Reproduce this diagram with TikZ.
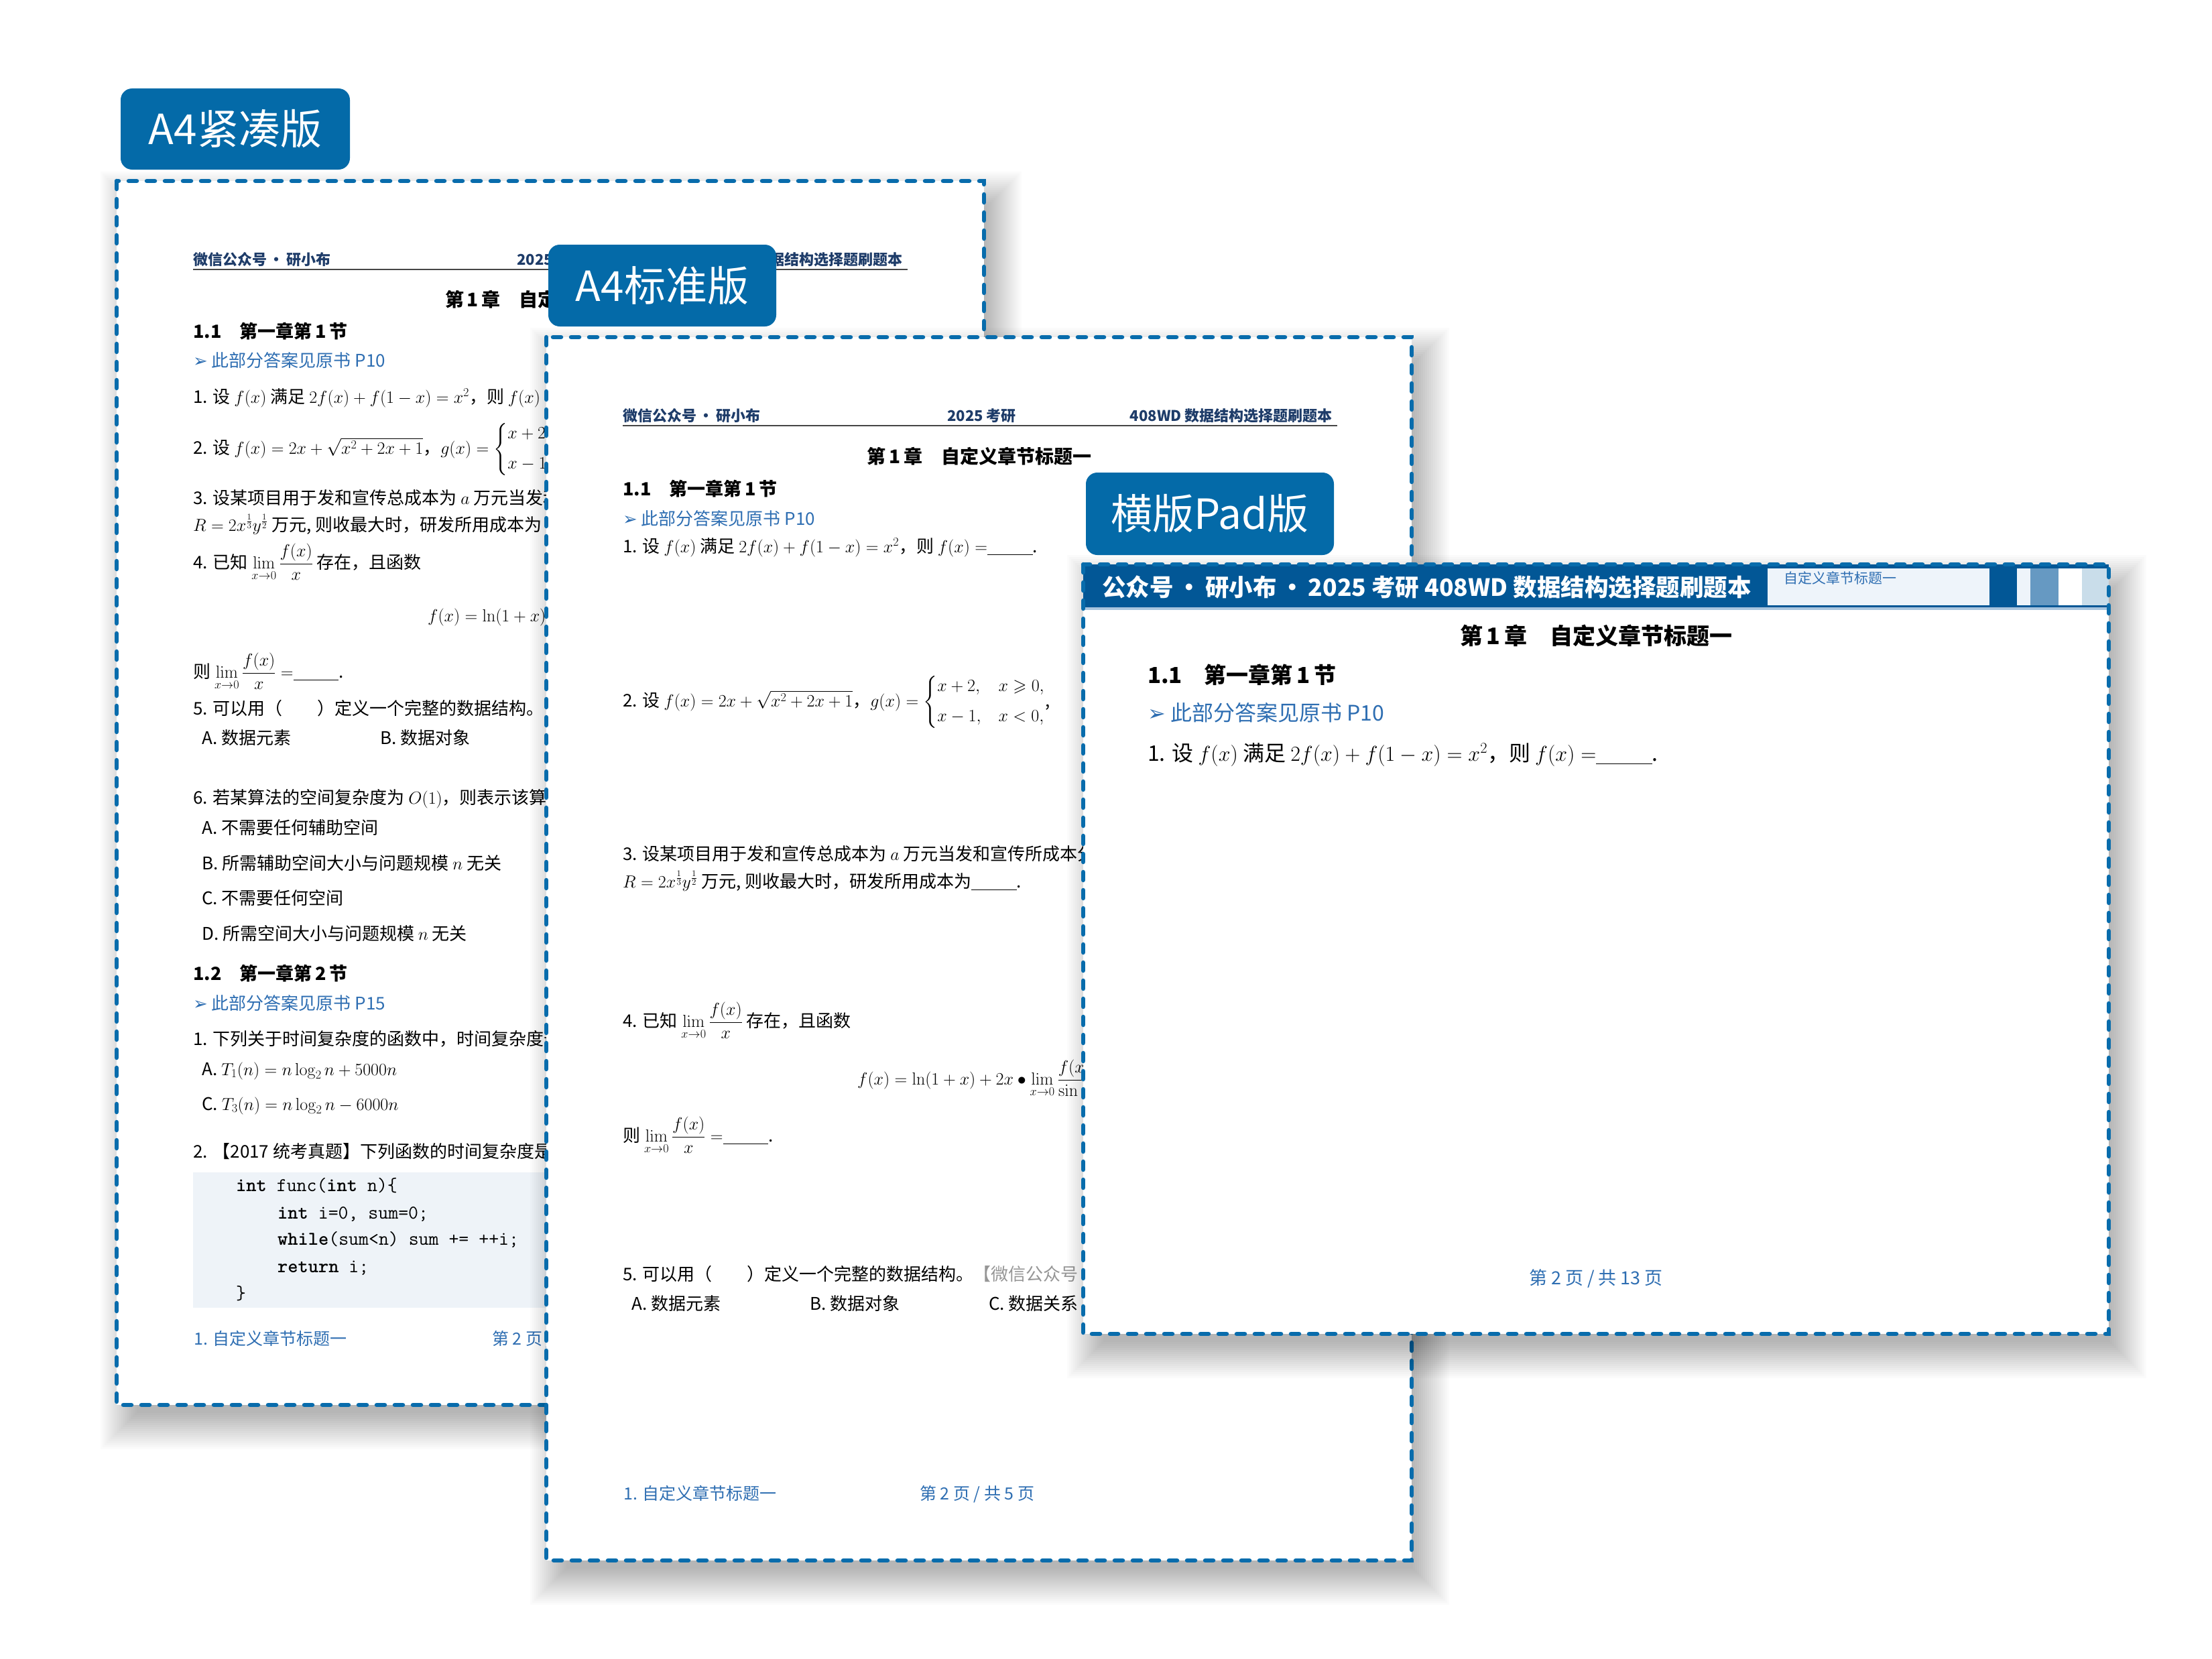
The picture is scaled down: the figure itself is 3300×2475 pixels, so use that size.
\RequirePackage{fix-cm}
\documentclass[tikz,border=0pt]{standalone}
\usepackage{amsmath,amssymb}
\usepackage[no-math]{fontspec}
\setmainfont{Noto Sans CJK SC}
\newfontfamily\arrowfont{DejaVu Sans}
\definecolor{labelblue}{RGB}{4,106,168}
\definecolor{dashblue}{RGB}{8,108,172}
\definecolor{navy}{RGB}{30,60,105}
\definecolor{linkblue}{RGB}{46,110,178}
\definecolor{banddark}{RGB}{2,87,150}
\definecolor{bandlight}{RGB}{238,244,250}
\definecolor{bandmid}{RGB}{102,153,194}
\definecolor{bandpale}{RGB}{201,221,234}
\definecolor{bandline}{RGB}{168,196,222}
\definecolor{codebg}{RGB}{238,243,248}
\definecolor{rulegray}{RGB}{70,70,70}
\definecolor{wmgray}{RGB}{150,150,150}
\newcommand\fs[1]{\fontsize{#1}{#1}\selectfont}
\newcommand\pagearrow{{\arrowfont ➢}}
\newcommand\blank{\underline{\hspace{2.6em}}}
\newcommand\gcases{\begin{cases}x+2, & x\geqslant 0,\\[14pt] x-1, & x<0,\end{cases}}
\newcommand\pshadow[4]{%
  \foreach \sr in {0,3,...,54}{%
    \fill[black, opacity=0.017] ({#1+30-\sr},{#2+40-\sr}) rectangle ({#3+2+\sr},{#4+12+\sr});
  }}
\tikzset{
  labelbox/.style={fill=labelblue, rounded corners=17pt, text=white, font=\fs{62}, inner sep=0pt},
  pageborder/.style={draw=dashblue, line width=6.5pt, dash pattern=on 12pt off 15pt, line cap=round},
  ta/.style={anchor=base west, inner sep=0pt, font=\fs{26}},
  tah/.style={anchor=base west, inner sep=0pt, font={\fs{22}\bfseries}, text=navy},
  tch/.style={anchor=center, inner sep=0pt, font={\fs{28}\bfseries}},
  tsec/.style={anchor=base west, inner sep=0pt, font={\fs{27}\bfseries}},
  tlink/.style={anchor=base west, inner sep=0pt, font=\fs{26}, text=linkblue},
  tfoot/.style={anchor=base west, inner sep=0pt, font=\fs{25}, text=linkblue},
  tcode/.style={anchor=base west, inner sep=0pt, font={\fs{29}\ttfamily}},
  tb/.style={anchor=base west, inner sep=0pt, font=\fs{32}},
}
\begin{document}
\begin{tikzpicture}[x=1pt,y=-1pt]
\useasboundingbox (0,0) rectangle (3300,2475);
\fill[white] (0,0) rectangle (3300,2475);

% ================= PAGE 1 : A4 compact =================
\pshadow{174}{270}{1468}{2096}
\fill[white] (174,270) rectangle (1468,2096);
\begin{scope}
\clip (174,270) rectangle (1468,2096);
\node[tah] (p1hl) at (288,395) {微信公众号\,·\,研小布};
\node[tah] (p1hm) at (771,395) {2025};
\node[tah, anchor=base east] (p1hr) at (1347,395) {据结构选择题刷题本};
\draw[rulegray, line width=1.8pt] (288,402) -- (1354,402);
\node[tch, anchor=west] (p1ch) at (664,447) {第\,1\,章\quad 自定};
\node[tsec] (p1s1) at (288,504) {1.1\quad 第一章第\,1\,节};
\node[tlink] (p1a1) at (288,547) {\pagearrow\ 此部分答案见原书 P10};
\node[ta] (p1q1) at (288,601) {1. 设 $f(x)$ 满足 $2f(x)+f(1-x)=x^2$，则 $f(x)$};
\node[ta] (p1q2) at (288,677) {2. 设 $f(x)=2x+\sqrt{x^2+2x+1}$，$g(x)=\gcases$};
\node[ta] (p1q3a) at (288,752) {3. 设某项目用于发和宣传总成本为 $a$ 万元当发和};
\node[ta] (p1q3b) at (288,792) {$R=2x^{\frac{1}{3}}y^{\frac{1}{2}}$ 万元, 则收最大时，研发所用成本为};
\node[ta] (p1q4) at (288,848) {4. 已知 $\lim\limits_{x\to 0}\dfrac{f(x)}{x}$ 存在，且函数};
\node[ta] (p1q4f) at (638,927) {$f(x)=\ln(1+x)+2x$};
\node[ta] (p1q4g) at (288,1011) {则 $\lim\limits_{x\to 0}\dfrac{f(x)}{x}=$\blank.};
\node[ta] (p1q5) at (288,1066) {5. 可以用（\qquad）定义一个完整的数据结构。\textcolor{wmgray}{【}};
\node[ta] (p1o5a) at (301,1110) {A. 数据元素};
\node[ta] (p1o5b) at (567,1110) {B. 数据对象};
\node[ta] (p1q6) at (288,1199) {6. 若某算法的空间复杂度为 $O(1)$，则表示该算法};
\node[ta] (p1o6a) at (301,1244) {A. 不需要任何辅助空间};
\node[ta] (p1o6b) at (301,1297) {B. 所需辅助空间大小与问题规模 $n$ 无关};
\node[ta] (p1o6c) at (301,1349) {C. 不需要任何空间};
\node[ta] (p1o6d) at (301,1402) {D. 所需空间大小与问题规模 $n$ 无关};
\node[tsec] (p1s2) at (288,1462) {1.2\quad 第一章第\,2\,节};
\node[tlink] (p1a2) at (288,1506) {\pagearrow\ 此部分答案见原书 P15};
\node[ta] (p1r1) at (288,1559) {1. 下列关于时间复杂度的函数中，时间复杂度最};
\node[ta] (p1r1a) at (301,1604) {A. $T_1(n)=n\log_2 n+5000n$};
\node[ta] (p1r1c) at (301,1656) {C. $T_3(n)=n\log_2 n-6000n$};
\node[ta] (p1r2) at (288,1727) {2. 【2017 统考真题】下列函数的时间复杂度是};
\fill[codebg] (288,1749) rectangle (1360,1951);
\node[tcode] (p1c1) at (352,1777) {\textbf{int} func(\textbf{int} n)\{};
\node[tcode] (p1c2) at (414,1818) {\textbf{int} i=0, sum=0;};
\node[tcode] (p1c3) at (414,1857) {\textbf{while}(sum<n) sum += ++i;};
\node[tcode] (p1c4) at (414,1898) {\textbf{return} i;};
\node[tcode] (p1c5) at (352,1938) {\}};
\node[tfoot] (p1f1) at (289,2006) {1. 自定义章节标题一};
\node[tfoot] (p1f2) at (734,2006) {第 2 页 /};
\end{scope}
\draw[pageborder] (174,270) rectangle (1468,2096);
\node[labelbox, minimum width=342pt, minimum height=121pt] (lab1) at (351,192.5) {A4紧凑版};

% ================= PAGE 2 : A4 standard =================
\pshadow{815}{503}{2106}{2328}
\fill[white] (815,503) rectangle (2106,2328);
\begin{scope}
\clip (815,503) rectangle (2106,2328);
\node[tah] (p2hl) at (929,628) {微信公众号\,·\,研小布};
\node[tah] (p2hm) at (1413,628) {2025 考研};
\node[tah, anchor=base east] (p2hr) at (1988,628) {408WD 数据结构选择题刷题本};
\draw[rulegray, line width=1.8pt] (929,635) -- (1995,635);
\node[tch] (p2ch) at (1461,681) {第\,1\,章\quad 自定义章节标题一};
\node[tsec] (p2s1) at (929,739) {1.1\quad 第一章第\,1\,节};
\node[tlink] (p2a1) at (929,783) {\pagearrow\ 此部分答案见原书 P10};
\node[ta] (p2q1) at (929,824) {1. 设 $f(x)$ 满足 $2f(x)+f(1-x)=x^2$，则 $f(x)=$\blank.};
\node[ta] (p2q2) at (929,1054) {2. 设 $f(x)=2x+\sqrt{x^2+2x+1}$，$g(x)=\gcases$,};
\node[ta] (p2q3a) at (929,1283) {3. 设某项目用于发和宣传总成本为 $a$ 万元当发和宣传所成本分};
\node[ta] (p2q3b) at (929,1324) {$R=2x^{\frac{1}{3}}y^{\frac{1}{2}}$ 万元, 则收最大时，研发所用成本为\blank.};
\node[ta] (p2q4) at (929,1532) {4. 已知 $\lim\limits_{x\to 0}\dfrac{f(x)}{x}$ 存在，且函数};
\node[ta] (p2q4f) at (1279,1618) {$f(x)=\ln(1+x)+2x\bullet\lim\limits_{x\to 0}\dfrac{f(x)}{\sin x}$};
\node[ta] (p2q4g) at (929,1703) {则 $\lim\limits_{x\to 0}\dfrac{f(x)}{x}=$\blank.};
\node[ta] (p2q5) at (929,1910) {5. 可以用（\qquad）定义一个完整的数据结构。\textcolor{wmgray}{【微信公众号 ·}};
\node[ta] (p2o5a) at (942,1954) {A. 数据元素};
\node[ta] (p2o5b) at (1208,1954) {B. 数据对象};
\node[ta] (p2o5c) at (1475,1954) {C. 数据关系};
\node[tfoot] (p2f1) at (930,2237) {1. 自定义章节标题一};
\node[tfoot] (p2f2) at (1372,2237) {第 2 页 / 共 5 页};
\end{scope}
\draw[pageborder] (815,503) rectangle (2106,2328);
\node[labelbox, minimum width=340pt, minimum height=122pt] (lab2) at (988,426) {A4标准版};

% ================= PAGE 3 : landscape pad =================
\pshadow{1616}{842}{3146}{1990}
\fill[white] (1616,842) rectangle (3146,1990);
\begin{scope}
\clip (1616,842) rectangle (3146,1990);
\fill[banddark] (1616,842) rectangle (3146,906);
\fill[bandlight] (2637,848) rectangle (2968,903);
\fill[bandlight] (3009,848) rectangle (3029,903);
\fill[bandmid] (3029,848) rectangle (3071,903);
\fill[white] (3071,848) rectangle (3106,903);
\fill[bandpale] (3106,848) rectangle (3146,903);
\fill[bandline] (1616,906) rectangle (3146,910);
\node[anchor=west, inner sep=0pt, font={\fs{35.5}\bfseries}, text=white] (p3ht) at (1644,876) {公众号\,·\,研小布\,·\,2025 考研 408WD 数据结构选择题刷题本};
\node[anchor=west, inner sep=0pt, font=\fs{21}, text=linkblue] (p3hs) at (2661,862) {自定义章节标题一};
\node[anchor=center, inner sep=0pt, font={\fs{34}\bfseries}] (p3ch) at (2381,948) {第\,1\,章\quad 自定义章节标题一};
\node[anchor=base west, inner sep=0pt, font={\fs{33}\bfseries}] (p3s1) at (1712,1019) {1.1\quad 第一章第\,1\,节};
\node[tb, text=linkblue] (p3a1) at (1712,1075) {\pagearrow\ 此部分答案见原书 P10};
\node[tb] (p3q1) at (1712,1135) {1. 设 $f(x)$ 满足 $2f(x)+f(1-x)=x^2$，则 $f(x)=$\blank.};
\node[anchor=center, inner sep=0pt, font=\fs{27}, text=linkblue] (p3f) at (2381,1907) {第 2 页 / 共 13 页};
\end{scope}
\draw[pageborder] (1616,842) rectangle (3146,1990);
\node[labelbox, minimum width=370pt, minimum height=123pt] (lab3) at (1805,766.5) {横版Pad版};
\end{tikzpicture}
\end{document}
